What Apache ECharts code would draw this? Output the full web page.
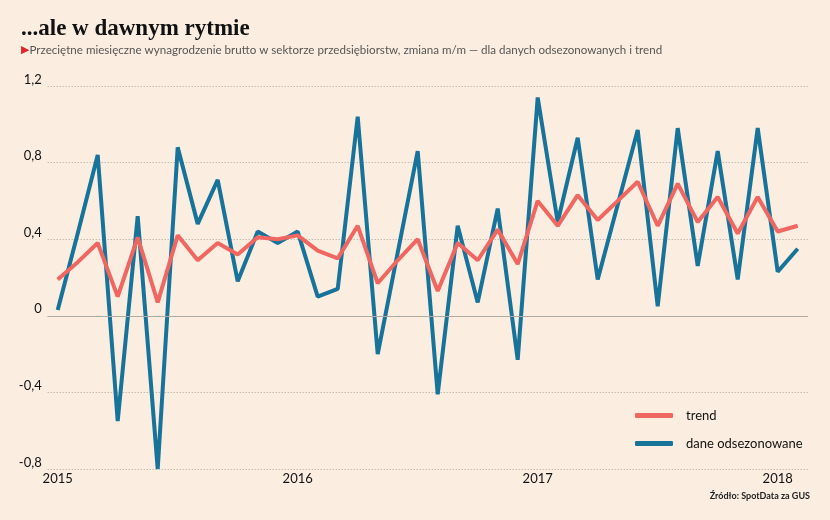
<!DOCTYPE html>
<html>
<head>
<meta charset="utf-8">
<script src="https://cdn.jsdelivr.net/npm/echarts@6/dist/echarts.min.js"></script>
<style>
  html, body { margin: 0; padding: 0; background: #fbeee1; }
  #chart { width: 830px; height: 520px; }
</style>
</head>
<body>
<div id="chart"></div>
<script>
// miesiace: styczen 2015 - luty 2018
const months = []
for (let y = 2015; y <= 2018; y++) {
  for (let m = 1; m <= 12; m++) {
    if (y === 2018 && m > 2) break
    months.push(y + "-" + String(m).padStart(2, "0"))
  }
}

const trend = [
  0.19, 0.28, 0.38, 0.10, 0.41, 0.07, 0.42, 0.29, 0.38, 0.32, 0.41, 0.40,
  0.42, 0.34, 0.30, 0.47, 0.17, 0.29, 0.40, 0.13, 0.38, 0.29, 0.45, 0.27,
  0.60, 0.47, 0.63, 0.50, 0.60, 0.70, 0.47, 0.69, 0.49, 0.62, 0.43, 0.62,
  0.44, 0.47
]

const adjusted = [
  0.03, 0.43, 0.84, -0.55, 0.52, -0.80, 0.88, 0.48, 0.71, 0.18, 0.44, 0.38,
  0.44, 0.10, 0.14, 1.04, -0.20, 0.33, 0.86, -0.41, 0.47, 0.07, 0.56, -0.23,
  1.14, 0.49, 0.93, 0.19, 0.58, 0.97, 0.05, 0.98, 0.26, 0.86, 0.19, 0.98,
  0.23, 0.35
]

const yTicks = [-0.8, -0.4, 0, 0.4, 0.8, 1.2]

const chart = echarts.init(document.getElementById("chart"))

chart.setOption({
  backgroundColor: "#fbeee1",
  animation: false,
  textStyle: { fontFamily: "Lato" },
  title: [
    {
      text: "...ale w dawnym rytmie",
      left: 16,
      top: 13,
      textStyle: {
        fontFamily: "Liberation Serif",
        fontWeight: "bold",
        fontSize: 23,
        color: "#111"
      }
    },
    {
      text: "{tri|▶}{t|Przeciętne miesięczne wynagrodzenie brutto w sektorze przedsiębiorstw, zmiana m/m — dla danych odsezonowanych i trend}",
      left: 16,
      top: 39,
      textStyle: {
        fontWeight: "normal",
        rich: {
          tri: { fontFamily: "DejaVu Sans", fontSize: 11, color: "#e3262d", fontWeight: "normal" },
          t: { fontFamily: "Lato", fontSize: 11.6, color: "#555", fontWeight: "normal" }
        }
      }
    },
    {
      text: "Źródło: SpotData za GUS",
      right: 15,
      top: 487,
      textStyle: {
        fontFamily: "Lato",
        fontWeight: "bold",
        fontSize: 9,
        color: "#222"
      }
    }
  ],
  legend: {
    orient: "vertical",
    left: 630,
    top: 404,
    itemWidth: 38,
    itemHeight: 5,
    itemGap: 15,
    icon: "roundRect",
    textStyle: { fontFamily: "Lato", fontSize: 13, color: "#111", padding: [0, 0, 0, 8] },
    data: ["trend", "dane odsezonowane"]
  },
  grid: {
    left: 47.7,
    right: 22.3,
    top: 86,
    bottom: 51
  },
  xAxis: {
    type: "category",
    data: months,
    boundaryGap: true,
    axisLine: { show: false },
    axisTick: { show: false },
    axisLabel: {
      interval: (i) => i % 12 === 0,
      formatter: (v) => v.slice(0, 4),
      fontFamily: "Lato",
      fontSize: 13,
      color: "#111",
      margin: 3
    },
    splitLine: { show: false }
  },
  yAxis: {
    type: "value",
    min: -0.8,
    max: 1.2,
    interval: 0.4,
    axisLine: { show: false },
    axisTick: { show: false },
    axisLabel: {
      formatter: (v) => {
        const t = yTicks.find((k) => Math.abs(k - v) < 1e-6)
        return t === 0 ? "0" : String(t).replace(".", ",")
      },
      fontFamily: "Lato",
      fontSize: 13,
      color: "#111",
      margin: 6,
      verticalAlign: "bottom"
    },
    splitLine: {
      lineStyle: { color: "#a9a49c", type: [1, 2], width: 1 }
    }
  },
  series: [
    {
      name: "dane odsezonowane",
      type: "line",
      data: adjusted,
      color: "#17739a",
      symbol: "none",
      lineStyle: { width: 4, color: "#17739a" },
      z: 2,
      markLine: {
        silent: true,
        symbol: "none",
        label: { show: false },
        lineStyle: { color: "#b0aaa2", type: "solid", width: 1 },
        data: [{ yAxis: 0 }]
      }
    },
    {
      name: "trend",
      type: "line",
      data: trend,
      color: "#f06762",
      symbol: "none",
      lineStyle: { width: 4, color: "#f06762" },
      z: 3
    }
  ]
})
</script>
</body>
</html>
